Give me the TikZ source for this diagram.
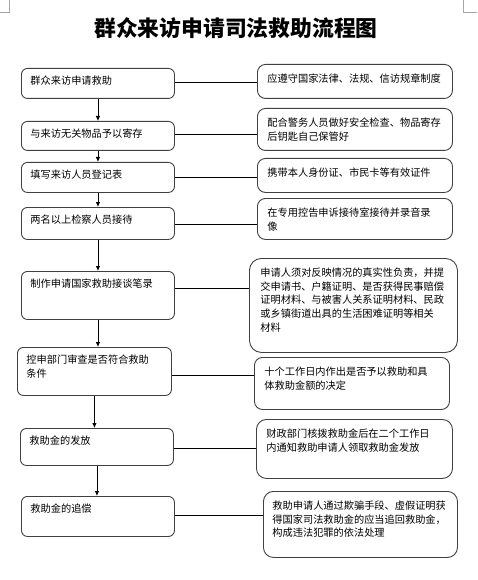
\documentclass[tikz,border=0pt]{standalone}
\usepackage{fontspec}
\setmainfont{Noto Sans CJK SC}
\usepackage{tikz}
\usetikzlibrary{arrows.meta,positioning}

\tikzset{
	stepbox/.style={draw=black!75,line width=0.9pt,rounded corners=6pt,anchor=north west,align=left,
		inner xsep=9pt,inner ysep=6pt,text height=10.5pt,font=\fontsize{10.2}{13.7}\selectfont},
	notebox/.style={stepbox,rounded corners=8pt,inner xsep=10pt,inner ysep=7.5pt},
	flowarrow/.style={-{Latex[length=5pt,width=4.5pt]},line width=0.8pt},
	link/.style={line width=0.8pt}
}

\begin{document}
\begin{tikzpicture}[x=1pt,y=-1pt]
	\useasboundingbox (0,0) rectangle (477,580);

	% page corner marks
	\draw[black!35,line width=0.6pt] (0,12) -- (9.3,12) -- (9.3,0);
	\draw[black!35,line width=0.6pt] (477,12) -- (463.3,12) -- (463.3,0);

	\node[font=\fontsize{21.8}{26}\selectfont\bfseries] (title) at (236,28) {群众来访申请司法救助流程图};

	% left column: steps
	\node[stepbox,text width=135pt,text depth=7.5pt] (S1) at (21,68) {群众来访申请救助};
	\node[stepbox,text width=135pt,text depth=6.5pt] (S2) at (21,121) {与来访无关物品予以寄存};
	\node[stepbox,text width=135pt,text depth=7.5pt] (S3) at (21,162) {填写来访人员登记表};
	\node[stepbox,text width=135pt,text depth=9.5pt] (S4) at (21,207) {两名以上检察人员接待};
	\node[stepbox,text width=135pt,text depth=25.5pt] (S5) at (21,271) {制作申请国家救助接谈笔录};
	\node[stepbox,text width=136pt,text depth=25.5pt] (S6) at (17,347) {控申部门审查是否符合救助\\条件};
	\node[stepbox,text width=135pt,text depth=14.5pt] (S7) at (20,428) {救助金的发放};
	\node[stepbox,text width=135pt,text depth=17.5pt] (S8) at (21,496) {救助金的追偿};

	% right column: notes
	\node[notebox,text width=175pt,text depth=8.5pt] (N1) at (257,64) {应遵守国家法律、法规、信访规章制度};
	\node[notebox,text width=175pt,text depth=16.5pt] (N2) at (257,108) {配合警务人员做好安全检查、物品寄存\\后钥匙自己保管好};
	\node[notebox,text width=175pt,text depth=8.5pt] (N3) at (257,158) {携带本人身份证、市民卡等有效证件};
	\node[notebox,text width=175pt,text depth=15.5pt] (N4) at (257,198) {在专用控告申诉接待室接待并录音录\\像};
	\node[notebox,rounded corners=12pt,inner xsep=11pt,text width=186pt,text depth=68.5pt] (N5) at (249,258)
		{申请人须对反映情况的真实性负责，并提\\交申请书、户籍证明、是否获得民事赔偿\\证明材料、与被害人关系证明材料、民政\\或乡镇街道出具的生活困难证明等相关\\材料};
	\node[notebox,text width=175pt,text depth=26.5pt] (N6) at (254,357) {十个工作日内作出是否予以救助和具\\体救助金额的决定};
	\node[notebox,rounded corners=10pt,text width=176pt,text depth=33.5pt] (N7) at (256,419) {财政部门核拨救助金后在二个工作日\\内通知救助申请人领取救助金发放};
	\node[notebox,rounded corners=10pt,inner xsep=9pt,text width=176pt,text depth=40.5pt] (N8) at (263,491)
		{救助申请人通过欺骗手段、虚假证明获\\得国家司法救助金的应当追回救助金，\\构成违法犯罪的依法处理};

	% connectors
	\foreach \i [evaluate=\i as \j using int(\i+1)] in {1,...,7}
		\draw[flowarrow] (S\i.south) -- (S\i.south |- S\j.north);
	\foreach \i/\s in {1/1,2/1.5,3/0,4/-1,5/7,6/-4,7/-1.5,8/1}
		\draw[link] ([yshift=\s pt]S\i.east) -- ([yshift=\s pt]S\i.east -| N\i.west);
\end{tikzpicture}
\end{document}
